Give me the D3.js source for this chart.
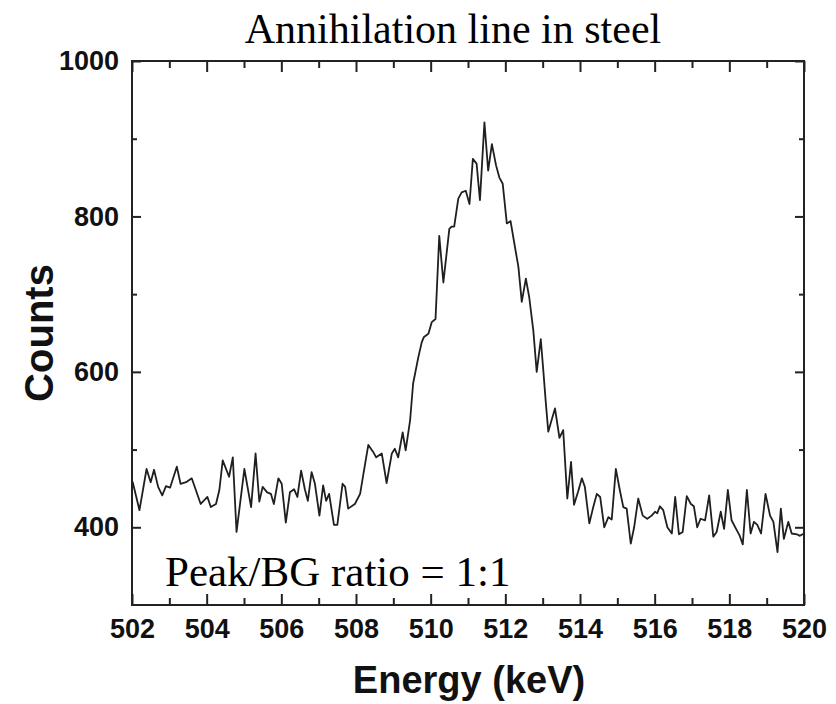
<!DOCTYPE html>
<html><head><meta charset="utf-8">
<script src="https://cdn.jsdelivr.net/npm/d3@7"></script>
<style>body{margin:0;background:#fff}svg{display:block}</style>
</head><body>
<script>
const energy = [502.00,502.02,502.20,502.39,502.50,502.59,502.70,502.81,502.91,503.02,503.20,503.30,503.45,503.60,503.84,504.02,504.11,504.25,504.34,504.43,504.60,504.70,504.80,505.01,505.19,505.31,505.41,505.50,505.62,505.72,505.80,505.92,506.01,506.12,506.23,506.34,506.43,506.53,506.63,506.71,506.81,506.90,507.02,507.12,507.20,507.28,507.41,507.50,507.64,507.71,507.79,507.97,508.11,508.20,508.33,508.46,508.54,508.69,508.82,508.96,509.04,509.13,509.25,509.33,509.45,509.53,509.67,509.76,509.82,509.94,510.03,510.13,510.23,510.34,510.50,510.56,510.63,510.74,510.83,510.94,511.04,511.13,511.23,511.32,511.44,511.54,511.64,511.75,511.84,511.93,512.04,512.14,512.26,512.35,512.44,512.55,512.64,512.75,512.84,512.95,513.02,513.08,513.15,513.24,513.33,513.45,513.55,513.66,513.76,513.84,513.95,514.05,514.13,514.25,514.35,514.45,514.54,514.65,514.76,514.85,514.96,515.07,515.16,515.25,515.36,515.45,515.56,515.68,515.80,515.92,516.01,516.07,516.14,516.23,516.34,516.46,516.55,516.65,516.75,516.86,516.97,517.05,517.14,517.23,517.35,517.46,517.57,517.66,517.77,517.86,517.96,518.06,518.18,518.27,518.36,518.47,518.57,518.66,518.75,518.85,518.97,519.09,519.18,519.29,519.38,519.46,519.58,519.67,519.81,519.89,520.00];
const counts = [458,458,422,475,458,474,452,441,453,451,478,456,458,463,430,439,426,430,448,486,465,490,394,475,426,495,433,452,445,443,430,463,456,406,445,449,439,473,449,434,471,456,415,454,434,443,403,403,456,452,424,430,443,469,506,497,490,495,457,495,501,490,522,499,538,585,619,638,645,649,664,668,775,715,784,787,787,823,831,833,816,874,868,821,921,859,893,866,850,842,791,794,760,735,690,720,696,653,600,642,600,563,523,538,553,515,525,437,484,429,446,463,452,405,425,443,439,400,413,410,475,447,426,424,379,400,437,415,411,415,420,418,427,422,400,392,439,391,394,440,430,427,400,411,409,441,388,394,420,398,448,409,398,390,378,448,392,407,403,392,443,415,407,368,424,385,407,392,391,389,392];
const xTicks = [502,504,506,508,510,512,514,516,518,520];
const xMinorTicks = [503,505,507,509,511,513,515,517,519];
const yTicks = [400,600,800,1000];
const yMinorTicks = [500,700,900];
const title = "Annihilation line in steel";
const xLabel = "Energy (keV)";
const yLabel = "Counts";
const note = "Peak/BG ratio = 1:1";

(function(){
const W = 836, H = 704;
const m = {left:132, right:32, top:61, bottom:99};
const svg = d3.select("body").append("svg").attr("width",W).attr("height",H);
const x = d3.scaleLinear().domain([502,520]).range([m.left, W-m.right]);
const y = d3.scaleLinear().domain([300,1000]).range([H-m.bottom, m.top]);
const axisCol = "#222";
const sans = "'Liberation Sans', Arial, sans-serif";
const serif = "'Liberation Serif','Times New Roman',serif";

const gBottom = svg.append("g").attr("transform",`translate(0,${y(300)})`)
  .call(d3.axisBottom(x).tickValues(xTicks).tickSize(-11).tickFormat(d3.format("d")).tickPadding(14));
const gBottomMinor = svg.append("g").attr("transform",`translate(0,${y(300)})`)
  .call(d3.axisBottom(x).tickValues(xMinorTicks).tickSize(-7).tickFormat(""));
const gTop = svg.append("g").attr("transform",`translate(0,${y(1000)})`)
  .call(d3.axisTop(x).tickValues(xTicks).tickSize(-11).tickFormat(""));
const gTopMinor = svg.append("g").attr("transform",`translate(0,${y(1000)})`)
  .call(d3.axisTop(x).tickValues(xMinorTicks).tickSize(-7).tickFormat(""));
const gLeft = svg.append("g").attr("transform",`translate(${x(502)},0)`)
  .call(d3.axisLeft(y).tickValues(yTicks).tickSize(-9).tickFormat(d3.format("d")).tickPadding(13));
const gLeftMinor = svg.append("g").attr("transform",`translate(${x(502)},0)`)
  .call(d3.axisLeft(y).tickValues(yMinorTicks).tickSize(-5).tickFormat(""));
const gRight = svg.append("g").attr("transform",`translate(${x(520)},0)`)
  .call(d3.axisRight(y).tickValues(yTicks).tickSize(-9).tickFormat(""));
const gRightMinor = svg.append("g").attr("transform",`translate(${x(520)},0)`)
  .call(d3.axisRight(y).tickValues(yMinorTicks).tickSize(-5).tickFormat(""));

[gBottom,gBottomMinor,gTop,gTopMinor,gLeft,gLeftMinor,gRight,gRightMinor].forEach(g=>{
  g.select(".domain").remove();
  g.selectAll("line").attr("stroke",axisCol).attr("stroke-width",2);
  g.selectAll("text").attr("font-family",sans)
   .attr("font-weight","bold").attr("font-size",27).attr("fill","#111");
});

svg.append("rect").attr("x",x(502)).attr("y",y(1000))
  .attr("width",x(520)-x(502)).attr("height",y(300)-y(1000))
  .attr("fill","none").attr("stroke",axisCol).attr("stroke-width",2);

const line = d3.line().x((d,i)=>x(energy[i])).y(d=>y(d));
svg.append("path").datum(counts).attr("d",line)
  .attr("fill","none").attr("stroke","#1f1f1f").attr("stroke-width",1.8)
  .attr("stroke-linejoin","round");

svg.append("text").attr("x",453).attr("y",43).attr("text-anchor","middle")
  .attr("font-family",serif).attr("font-size",42).attr("fill","#000").text(title);

svg.append("text").attr("x",165).attr("y",586)
  .attr("font-family",serif).attr("font-size",43).attr("fill","#000").text(note);

svg.append("text").attr("x",469).attr("y",693).attr("text-anchor","middle")
  .attr("font-family",sans).attr("font-weight","bold")
  .attr("font-size",38).attr("fill","#111").text(xLabel);
svg.append("text").attr("transform",`translate(53,333) rotate(-90)`)
  .attr("text-anchor","middle")
  .attr("font-family",sans).attr("font-weight","bold")
  .attr("font-size",40).attr("fill","#111").text(yLabel);
})();
</script>
</body></html>
